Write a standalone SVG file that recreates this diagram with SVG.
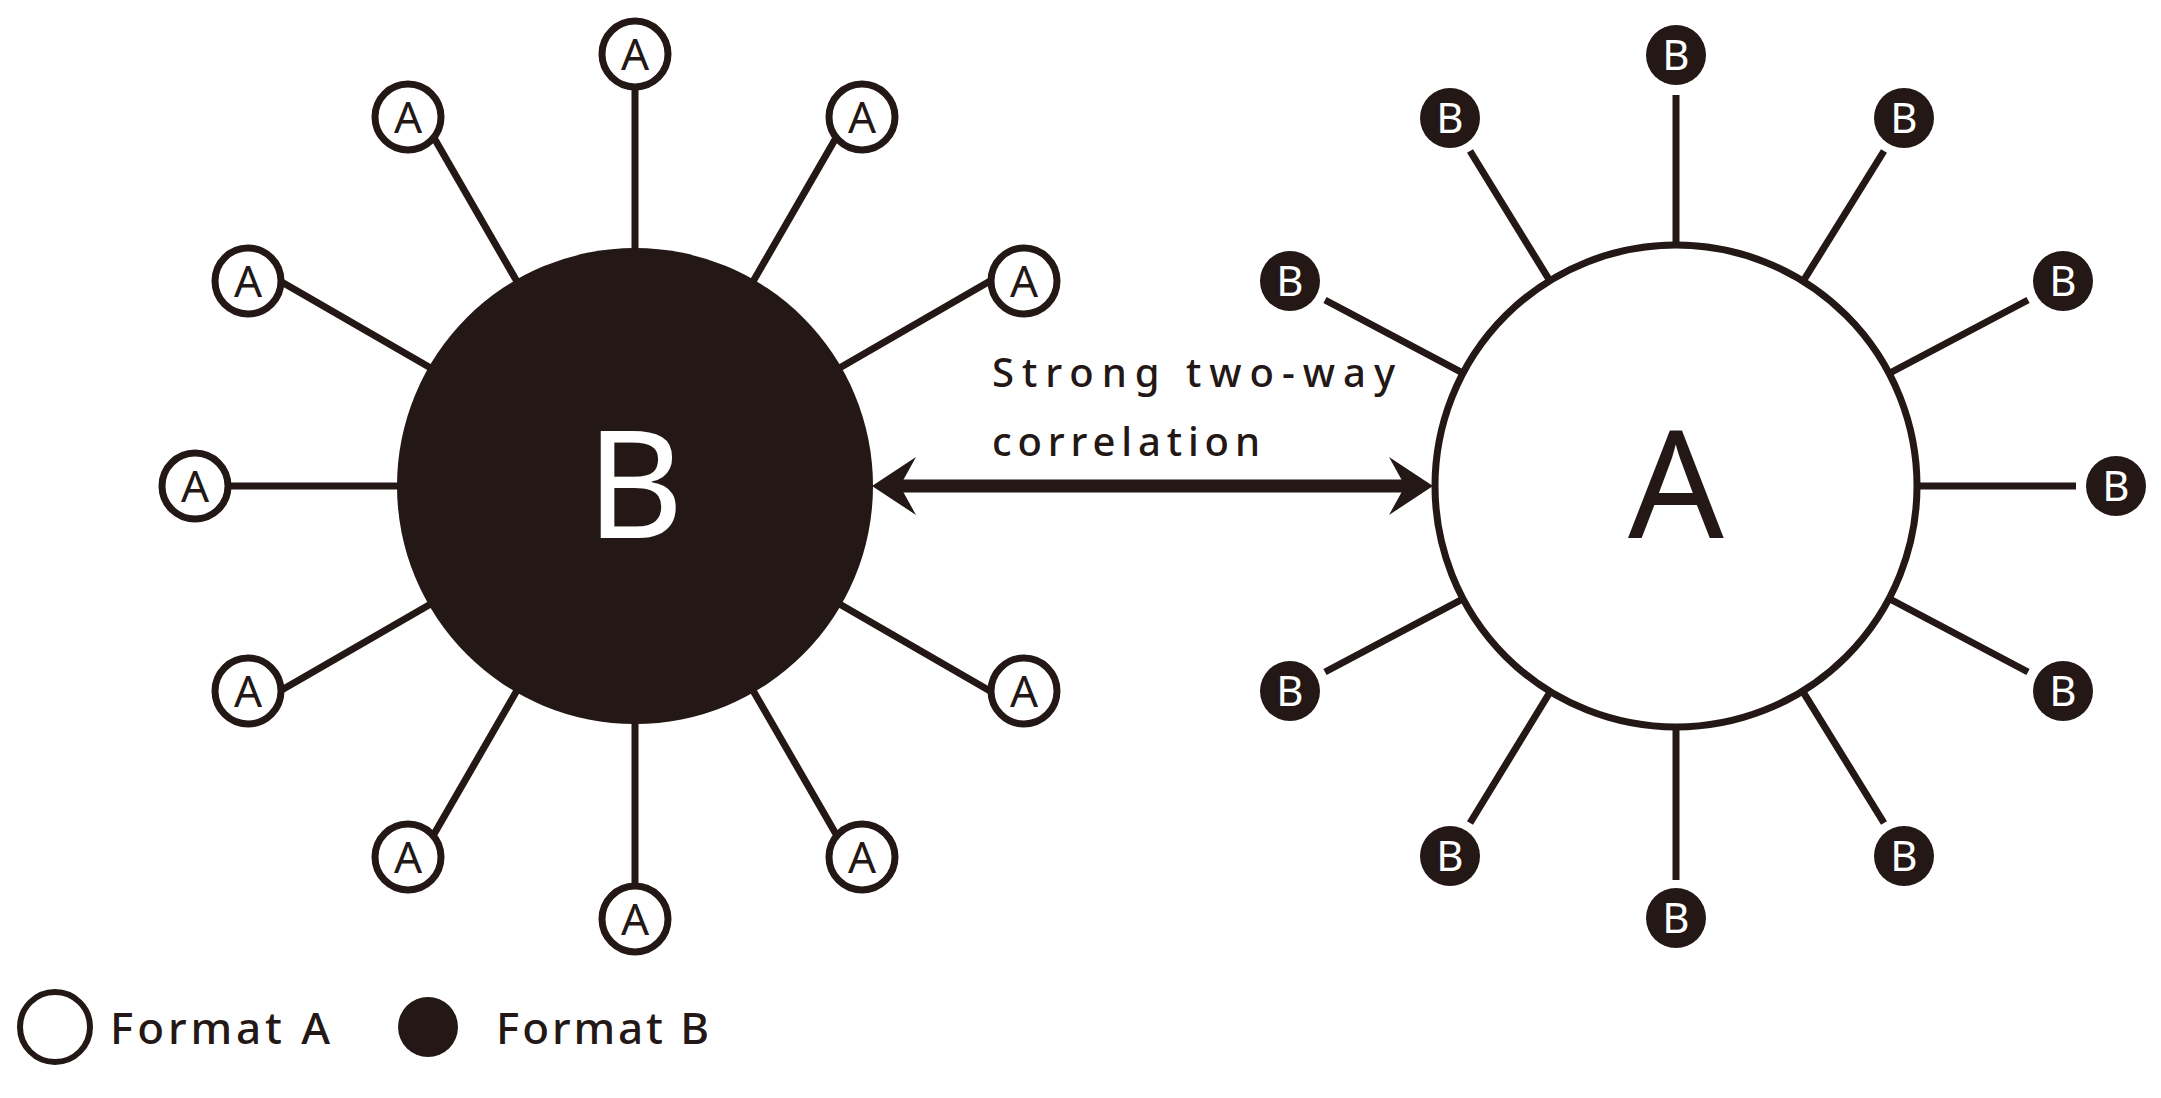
<svg xmlns="http://www.w3.org/2000/svg" width="2161" height="1098" viewBox="0 0 2161 1098">
<style>
.sp{stroke:#231815;stroke-width:7;fill:none}
.na{fill:#fff;stroke:#231815;stroke-width:7}
.nb{fill:#231815}
.ta{font-family:"Noto Sans","Liberation Sans",sans-serif;font-size:44px;fill:#231815;text-anchor:middle}
.tb{font-family:"Noto Sans","Liberation Sans",sans-serif;font-size:42px;fill:#fff;text-anchor:middle}
.lbl{font-family:"Noto Sans","Liberation Sans",sans-serif;fill:#231815;font-weight:500}
</style>
<rect width="2161" height="1098" fill="#fff"/>
<g id="connectors">
<g class="sp">
<line x1="635" y1="486" x2="635" y2="51"/><line x1="635" y1="486" x2="852.5" y2="109.3"/><line x1="635" y1="486" x2="1011.7" y2="268.5"/><line x1="635" y1="486" x2="1011.7" y2="703.5"/><line x1="635" y1="486" x2="852.5" y2="862.7"/><line x1="635" y1="486" x2="635" y2="921"/><line x1="635" y1="486" x2="417.5" y2="862.7"/><line x1="635" y1="486" x2="258.3" y2="703.5"/><line x1="635" y1="486" x2="200" y2="486"/><line x1="635" y1="486" x2="258.3" y2="268.5"/><line x1="635" y1="486" x2="417.5" y2="109.3"/>
<line x1="1676" y1="486" x2="1676" y2="95"/><line x1="1676" y1="486" x2="1884" y2="151"/><line x1="1676" y1="486" x2="2028" y2="300"/><line x1="1676" y1="486" x2="2076" y2="486"/><line x1="1676" y1="486" x2="2028" y2="672"/><line x1="1676" y1="486" x2="1884" y2="823"/><line x1="1676" y1="486" x2="1676" y2="880"/><line x1="1676" y1="486" x2="1470" y2="823"/><line x1="1676" y1="486" x2="1325" y2="672"/><line x1="1676" y1="486" x2="1325" y2="300"/><line x1="1676" y1="486" x2="1470" y2="151"/>
</g>
<g id="arrow">
<line x1="898" y1="486" x2="1408" y2="486" stroke="#231815" stroke-width="13"/>
<polygon points="872,486 916,457 900,486 916,515" fill="#231815"/>
<polygon points="1433,486 1389,457 1405,486 1389,515" fill="#231815"/>
</g>
</g>
<g id="hubB"><circle cx="635" cy="486" r="238" fill="#231815"/><text x="635" y="538" font-family="Noto Sans, Liberation Sans, sans-serif" font-size="150" fill="#fff" text-anchor="middle">B</text></g>
<g id="hubA"><circle cx="1676" cy="486" r="241" fill="#fff" stroke="#231815" stroke-width="7"/><text x="1676" y="538" font-family="Noto Sans, Liberation Sans, sans-serif" font-size="150" fill="#231815" text-anchor="middle">A</text></g>
<g id="leafA">
<g id="a1"><circle class="na" cx="635" cy="54" r="33"/><text class="ta" x="635" y="70">A</text></g>
<g id="a2"><circle class="na" cx="862" cy="117" r="33"/><text class="ta" x="862" y="133">A</text></g>
<g id="a3"><circle class="na" cx="1024" cy="281" r="33"/><text class="ta" x="1024" y="297">A</text></g>
<g id="a4"><circle class="na" cx="1024" cy="691" r="33"/><text class="ta" x="1024" y="707">A</text></g>
<g id="a5"><circle class="na" cx="862" cy="857" r="33"/><text class="ta" x="862" y="873">A</text></g>
<g id="a6"><circle class="na" cx="635" cy="919" r="33"/><text class="ta" x="635" y="935">A</text></g>
<g id="a7"><circle class="na" cx="408" cy="857" r="33"/><text class="ta" x="408" y="873">A</text></g>
<g id="a8"><circle class="na" cx="248" cy="691" r="33"/><text class="ta" x="248" y="707">A</text></g>
<g id="a9"><circle class="na" cx="195" cy="486" r="33"/><text class="ta" x="195" y="502">A</text></g>
<g id="a10"><circle class="na" cx="248" cy="281" r="33"/><text class="ta" x="248" y="297">A</text></g>
<g id="a11"><circle class="na" cx="408" cy="117" r="33"/><text class="ta" x="408" y="133">A</text></g>
</g>
<g id="leafB">
<g id="b1"><circle class="nb" cx="1676" cy="55" r="30"/><text class="tb" x="1676" y="70">B</text></g>
<g id="b2"><circle class="nb" cx="1904" cy="118" r="30"/><text class="tb" x="1904" y="133">B</text></g>
<g id="b3"><circle class="nb" cx="2063" cy="281" r="30"/><text class="tb" x="2063" y="296">B</text></g>
<g id="b4"><circle class="nb" cx="2116" cy="486" r="30"/><text class="tb" x="2116" y="501">B</text></g>
<g id="b5"><circle class="nb" cx="2063" cy="691" r="30"/><text class="tb" x="2063" y="706">B</text></g>
<g id="b6"><circle class="nb" cx="1904" cy="856" r="30"/><text class="tb" x="1904" y="871">B</text></g>
<g id="b7"><circle class="nb" cx="1676" cy="918" r="30"/><text class="tb" x="1676" y="933">B</text></g>
<g id="b8"><circle class="nb" cx="1450" cy="856" r="30"/><text class="tb" x="1450" y="871">B</text></g>
<g id="b9"><circle class="nb" cx="1290" cy="691" r="30"/><text class="tb" x="1290" y="706">B</text></g>
<g id="b10"><circle class="nb" cx="1290" cy="281" r="30"/><text class="tb" x="1290" y="296">B</text></g>
<g id="b11"><circle class="nb" cx="1450" cy="118" r="30"/><text class="tb" x="1450" y="133">B</text></g>
</g>
<g id="label">
<text class="lbl" x="992" y="387" font-size="40" textLength="403" lengthAdjust="spacing">Strong  two-way</text>
<text class="lbl" x="992" y="456" font-size="40" textLength="268" lengthAdjust="spacing">correlation</text>
</g>
<g id="legend">
<circle cx="55" cy="1027" r="35" fill="#fff" stroke="#231815" stroke-width="6"/>
<text class="lbl" x="110" y="1044" font-size="44" textLength="220" lengthAdjust="spacing">Format A</text>
<circle cx="428" cy="1027" r="30" fill="#231815"/>
<text class="lbl" x="496" y="1044" font-size="44" textLength="213" lengthAdjust="spacing">Format B</text>
</g>
</svg>
